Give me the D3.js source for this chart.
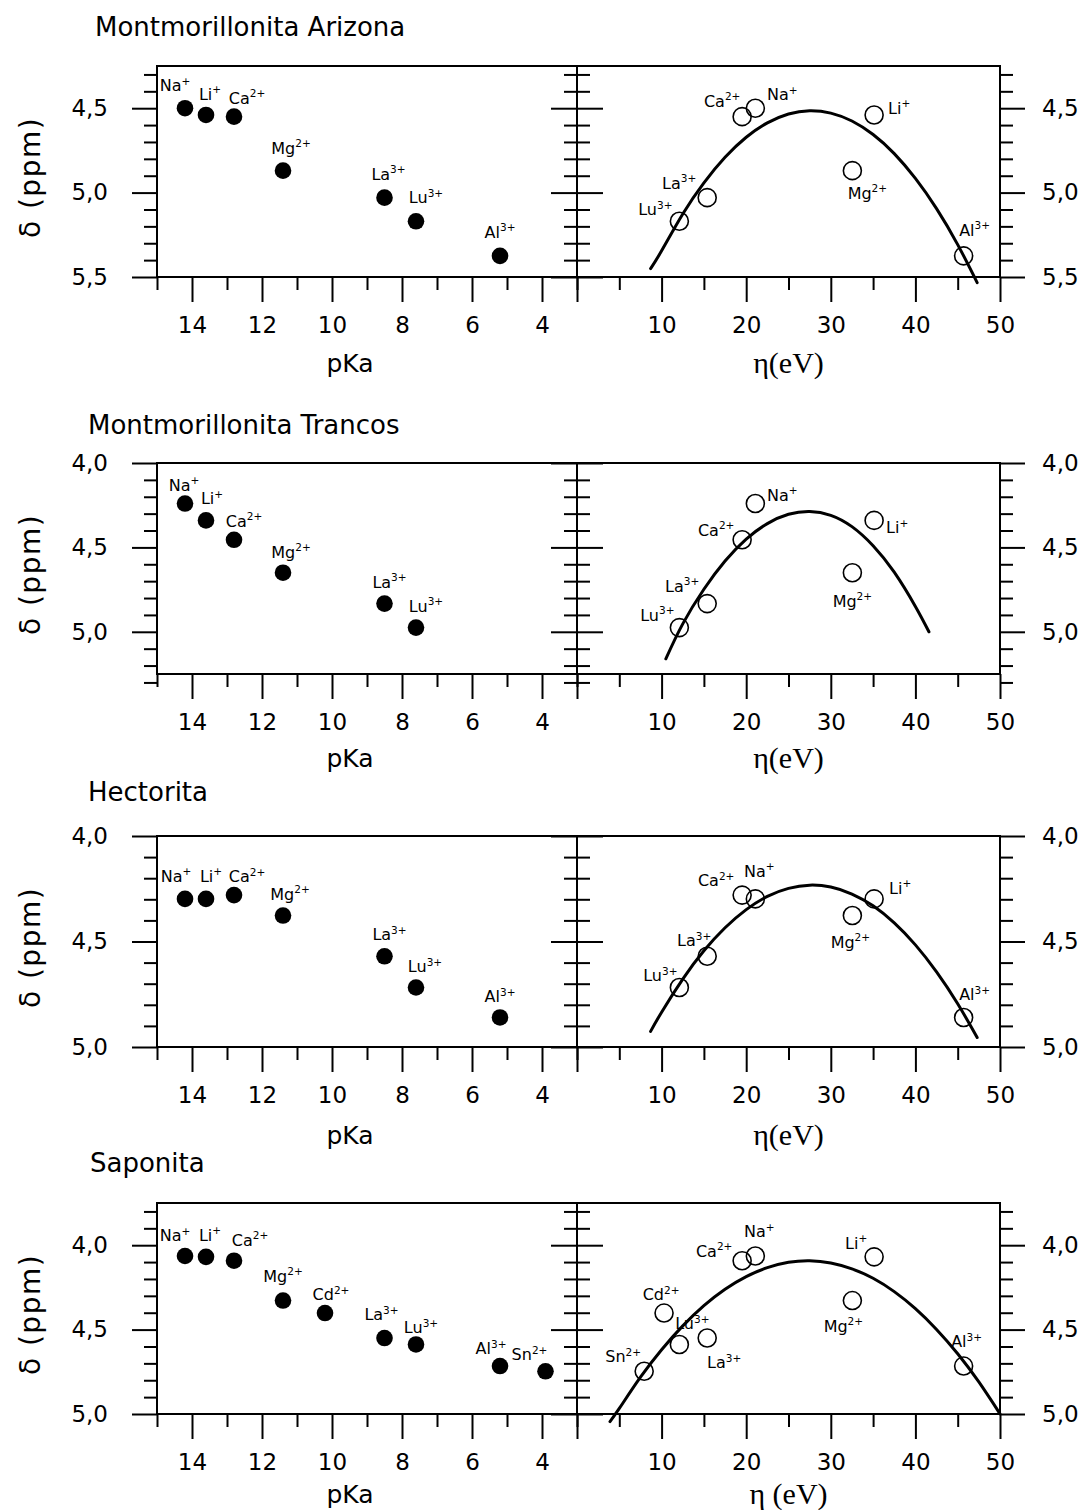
<!DOCTYPE html>
<html>
<head>
<meta charset="utf-8">
<script src="https://cdn.jsdelivr.net/npm/d3@7"></script>
<style>
  body { margin: 0; background: #fff; }
  svg text { font-family: "DejaVu Sans", "Liberation Sans", sans-serif; fill: #000; }
</style>
</head>
<body>
<svg id="fig" width="1086" height="1510"></svg>
<script>
// ---- data -------------------------------------------------------------
const ions     = ["Na", "Li", "Ca", "Mg", "Cd", "La", "Lu", "Al", "Sn"];
const charges  = ["+", "+", "2+", "2+", "2+", "3+", "3+", "3+", "2+"];
const pKa      = [14.2, 13.6, 12.8, 11.4, 10.2, 8.5, 7.6, 5.2, 3.9];
const hardness = [21.08, 35.12, 19.52, 32.55, 10.29, 15.39, 12.1, 45.7, 7.94];   // eta, eV

const samples = ["Montmorillonita Arizona", "Montmorillonita Trancos", "Hectorita", "Saponita"];

// chemical shift (ppm) of each ion in each clay; null = not measured
const shiftArizona   = [4.50, 4.54, 4.55, 4.87, null, 5.03, 5.17, 5.375, null];
const shiftTrancos   = [4.24, 4.34, 4.455, 4.65, null, 4.833, 4.975, null, null];
const shiftHectorita = [4.298, 4.298, 4.28, 4.377, null, 4.57, 4.718, 4.86, null];
const shiftSaponita  = [4.064, 4.069, 4.092, 4.328, 4.402, 4.55, 4.588, 4.716, 4.747];

// fitted trend of shift against hardness
const fitArizonaEta     = [8.7, 10, 12.5, 15, 17.5, 20, 22.5, 25, 27.5, 30, 32.5, 35, 37.5, 40, 42.5, 45, 47.3];
const fitArizonaShift   = [5.45, 5.345, 5.127, 4.942, 4.791, 4.672, 4.587, 4.534, 4.515, 4.529, 4.576, 4.656, 4.769, 4.916, 5.095, 5.308, 5.533];
const fitTrancosEta     = [10.5, 12.5, 15, 17.5, 20, 22.5, 25, 27.5, 30, 32.5, 35, 37.5, 40, 41.6];
const fitTrancosShift   = [5.16, 4.953, 4.748, 4.581, 4.451, 4.359, 4.304, 4.287, 4.31, 4.377, 4.49, 4.647, 4.85, 5.0];
const fitHectoritaEta   = [8.7, 10, 12.5, 15, 17.5, 20, 22.5, 25, 27.5, 30, 32.5, 35, 37.5, 40, 42.5, 45, 47.3];
const fitHectoritaShift = [4.926, 4.835, 4.678, 4.544, 4.435, 4.349, 4.286, 4.248, 4.233, 4.242, 4.275, 4.331, 4.412, 4.516, 4.644, 4.795, 4.955];
const fitSaponitaEta    = [3.9, 5, 7.5, 10, 12.5, 15, 17.5, 20, 22.5, 25, 27.5, 30, 32.5, 35, 37.5, 40, 42.5, 45, 47.5, 50];
const fitSaponitaShift  = [5.045, 4.967, 4.782, 4.619, 4.478, 4.358, 4.261, 4.186, 4.133, 4.101, 4.092, 4.105, 4.140, 4.196, 4.275, 4.376, 4.499, 4.643, 4.810, 4.999];

// axis ranges and tick labels
const shiftDomains   = [[4.25, 5.5], [4.0, 5.25], [4.0, 5.0], [3.75, 5.0]];
const pKaDomain      = [15, 3];
const etaDomain      = [0, 50];
const pKaTickLabels  = [14, 12, 10, 8, 6, 4];
const etaTickLabels  = [10, 20, 30, 40, 50];
const shiftAxisTitle = "δ (ppm)";
const pKaAxisTitle   = "pKa";
const etaAxisTitles  = ["η(eV)", "η(eV)", "η(eV)", "η (eV)"];

// ---- layout -----------------------------------------------------------
const LAYOUT = {
  leftX: [157, 577], rightX: [577, 1000],
  tops: [66, 463, 836, 1203], height: 211,
  titleX: [95, 88, 88, 90], titleY: [27, 425, 792, 1163],
  axisTitleDy: [86, 84, 88, 80],
  majorLen: 25, minorLen: 13, innerMajorLen: 26
};

// label placement (offset of label centre from the marker centre)
const LABEL_OFFSETS = [
  { left:  { Na: [-10, -23], Li: [4, -21], Ca: [13, -19], Mg: [8, -23], La: [4, -24], Lu: [10, -24], Al: [0, -24] },
    right: { Ca: [-20, -16], Na: [27, -14], Li: [25, -7], Mg: [15, 22], La: [-28, -15], Lu: [-24, -12], Al: [11, -26] } },
  { left:  { Na: [-1, -19], Li: [6, -22], Ca: [10, -19], Mg: [8, -21], La: [5, -22], Lu: [10, -22] },
    right: { Na: [27, -9], Li: [23, 7], Ca: [-26, -10], Mg: [0, 28], La: [-25, -18], Lu: [-22, -13] } },
  { left:  { Na: [-9, -23], Li: [5, -23], Ca: [13, -19], Mg: [7, -22], La: [5, -22], Lu: [9, -21], Al: [0, -21] },
    right: { Ca: [-26, -15], Na: [4, -28], Li: [26, -11], Mg: [-2, 26], La: [-13, -16], Lu: [-19, -12], Al: [11, -23] } },
  { left:  { Na: [-10, -21], Li: [4, -22], Ca: [16, -21], Mg: [0, -25], Cd: [6, -19], La: [-3, -24], Lu: [5, -17], Al: [-9, -18], Sn: [-16, -17] },
    right: { Na: [4, -25], Ca: [-28, -10], Li: [-18, -14], Mg: [-9, 25], Cd: [-3, -19], Lu: [13, -21], La: [17, 24], Sn: [-21, -15], Al: [3, -25] } }
];

const shifts = [shiftArizona, shiftTrancos, shiftHectorita, shiftSaponita];
const fitEta = [fitArizonaEta, fitTrancosEta, fitHectoritaEta, fitSaponitaEta];
const fitShift = [fitArizonaShift, fitTrancosShift, fitHectoritaShift, fitSaponitaShift];

// ---- drawing ----------------------------------------------------------
const svg = d3.select("#fig");
const fmtShift = d => d3.format(".1f")(d).replace(".", ",");

function tickGroup(parent, tx, ty, axis, fontSize) {
  const g = parent.append("g").attr("transform", `translate(${tx},${ty})`).call(axis);
  g.select(".domain").remove();
  g.selectAll(".tick line").attr("stroke", "#000").attr("stroke-width", 2);
  g.selectAll(".tick text").attr("font-size", fontSize).attr("fill", "#000")
    .style("font-family", '"DejaVu Sans", sans-serif');
  return g;
}

samples.forEach((name, r) => {
  const top = LAYOUT.tops[r], bottom = top + LAYOUT.height;
  const y  = d3.scaleLinear().domain(shiftDomains[r]).range([top, bottom]);
  const xP = d3.scaleLinear().domain(pKaDomain).range(LAYOUT.leftX);
  const xE = d3.scaleLinear().domain(etaDomain).range(LAYOUT.rightX);
  const g = svg.append("g");

  // sample title
  g.append("text").attr("x", LAYOUT.titleX[r]).attr("y", LAYOUT.titleY[r] + 9)
    .attr("font-size", 26).text(name);

  // shift ticks: tenths, every fifth tenth is major
  const [d0, d1] = shiftDomains[r];
  const tenths = d3.range(Math.round(d0 * 10), Math.round(d1 * 10) + 1);
  const yMajor = tenths.filter(v => v % 5 === 0).map(v => v / 10);
  const yMinor = tenths.filter(v => v % 5 !== 0).map(v => v / 10);

  // outer left axis (labelled)
  tickGroup(g, LAYOUT.leftX[0], 0, d3.axisLeft(y).tickValues(yMinor).tickSize(LAYOUT.minorLen).tickFormat(""), 23);
  tickGroup(g, LAYOUT.leftX[0], 0, d3.axisLeft(y).tickValues(yMajor).tickSize(LAYOUT.majorLen).tickPadding(24).tickFormat(fmtShift), 23);
  // shared divider: ticks point into both panels
  tickGroup(g, LAYOUT.leftX[1], 0, d3.axisLeft(y).tickValues(yMinor).tickSize(LAYOUT.minorLen).tickFormat(""), 23);
  tickGroup(g, LAYOUT.leftX[1], 0, d3.axisLeft(y).tickValues(yMajor).tickSize(LAYOUT.innerMajorLen).tickFormat(""), 23);
  tickGroup(g, LAYOUT.rightX[0], 0, d3.axisRight(y).tickValues(yMinor).tickSize(LAYOUT.minorLen).tickFormat(""), 23);
  tickGroup(g, LAYOUT.rightX[0], 0, d3.axisRight(y).tickValues(yMajor).tickSize(LAYOUT.innerMajorLen).tickFormat(""), 23);
  // outer right axis (labelled)
  tickGroup(g, LAYOUT.rightX[1], 0, d3.axisRight(y).tickValues(yMinor).tickSize(LAYOUT.minorLen).tickFormat(""), 23);
  tickGroup(g, LAYOUT.rightX[1], 0, d3.axisRight(y).tickValues(yMajor).tickSize(LAYOUT.majorLen).tickPadding(17).tickFormat(fmtShift), 23);

  // pKa axis
  const pAll = d3.range(3, 16);
  tickGroup(g, 0, bottom, d3.axisBottom(xP).tickValues(pAll.filter(v => !pKaTickLabels.includes(v))).tickSize(LAYOUT.minorLen).tickFormat(""), 23);
  tickGroup(g, 0, bottom, d3.axisBottom(xP).tickValues(pKaTickLabels).tickSize(LAYOUT.majorLen).tickPadding(15).tickFormat(d3.format("d")), 23);
  // hardness axis
  const eAll = d3.range(0, 51, 5);
  tickGroup(g, 0, bottom, d3.axisBottom(xE).tickValues(eAll.filter(v => v % 10 !== 0)).tickSize(LAYOUT.minorLen).tickFormat(""), 23);
  tickGroup(g, 0, bottom, d3.axisBottom(xE).tickValues(eAll.filter(v => v % 10 === 0)).tickSize(LAYOUT.majorLen).tickPadding(15)
    .tickFormat(d => etaTickLabels.includes(d) ? d : ""), 23);

  // panel frames
  [LAYOUT.leftX, LAYOUT.rightX].forEach(xr => {
    g.append("rect").attr("x", xr[0]).attr("y", top).attr("width", xr[1] - xr[0]).attr("height", LAYOUT.height)
      .attr("fill", "none").attr("stroke", "#000").attr("stroke-width", 2);
  });

  // axis titles
  g.append("text").attr("transform", `translate(30,${(top + bottom) / 2 + 6}) rotate(-90)`)
    .attr("text-anchor", "middle").attr("dominant-baseline", "central").attr("font-size", 28)
    .attr("letter-spacing", 1.5).text(shiftAxisTitle);
  g.append("text").attr("x", 350).attr("y", bottom + LAYOUT.axisTitleDy[r]).attr("dy", "0.36em")
    .attr("text-anchor", "middle").attr("font-size", 25).text(pKaAxisTitle);
  g.append("text").attr("x", (LAYOUT.rightX[0] + LAYOUT.rightX[1]) / 2).attr("y", bottom + LAYOUT.axisTitleDy[r]).attr("dy", "0.34em")
    .attr("text-anchor", "middle").attr("font-size", 30)
    .style("font-family", '"Liberation Serif", "DejaVu Serif", serif').text(etaAxisTitles[r]);

  // fitted curve
  const fit = fitEta[r].map((e, i) => [e, fitShift[r][i]]);
  g.append("path").datum(fit)
    .attr("d", d3.line().x(d => xE(d[0])).y(d => y(d[1])).curve(d3.curveNatural))
    .attr("fill", "none").attr("stroke", "#000").attr("stroke-width", 3).attr("stroke-linecap", "round");

  // points
  const pts = ions.map((ion, i) => ({ ion, charge: charges[i], p: pKa[i], eta: hardness[i], s: shifts[r][i] }))
    .filter(d => d.s !== null);

  g.selectAll(".dot").data(pts).join("circle").attr("class", "dot")
    .attr("cx", d => xP(d.p)).attr("cy", d => y(d.s)).attr("r", 8.3).attr("fill", "#000");
  g.selectAll(".ring").data(pts).join("circle").attr("class", "ring")
    .attr("cx", d => xE(d.eta)).attr("cy", d => y(d.s)).attr("r", 9).attr("fill", "none")
    .attr("stroke", "#000").attr("stroke-width", 1.6);

  // ion labels
  const addLabel = (cx, cy, d, off) => {
    const t = g.append("text").attr("x", cx + off[0]).attr("y", cy + off[1] + 6)
      .attr("text-anchor", "middle").attr("font-size", 16);
    t.append("tspan").text(d.ion);
    t.append("tspan").attr("dy", -6.5).attr("font-size", 10.5).text(d.charge);
  };
  pts.forEach(d => {
    addLabel(xP(d.p), y(d.s), d, LABEL_OFFSETS[r].left[d.ion]);
    addLabel(xE(d.eta), y(d.s), d, LABEL_OFFSETS[r].right[d.ion]);
  });
});
</script>
</body>
</html>
